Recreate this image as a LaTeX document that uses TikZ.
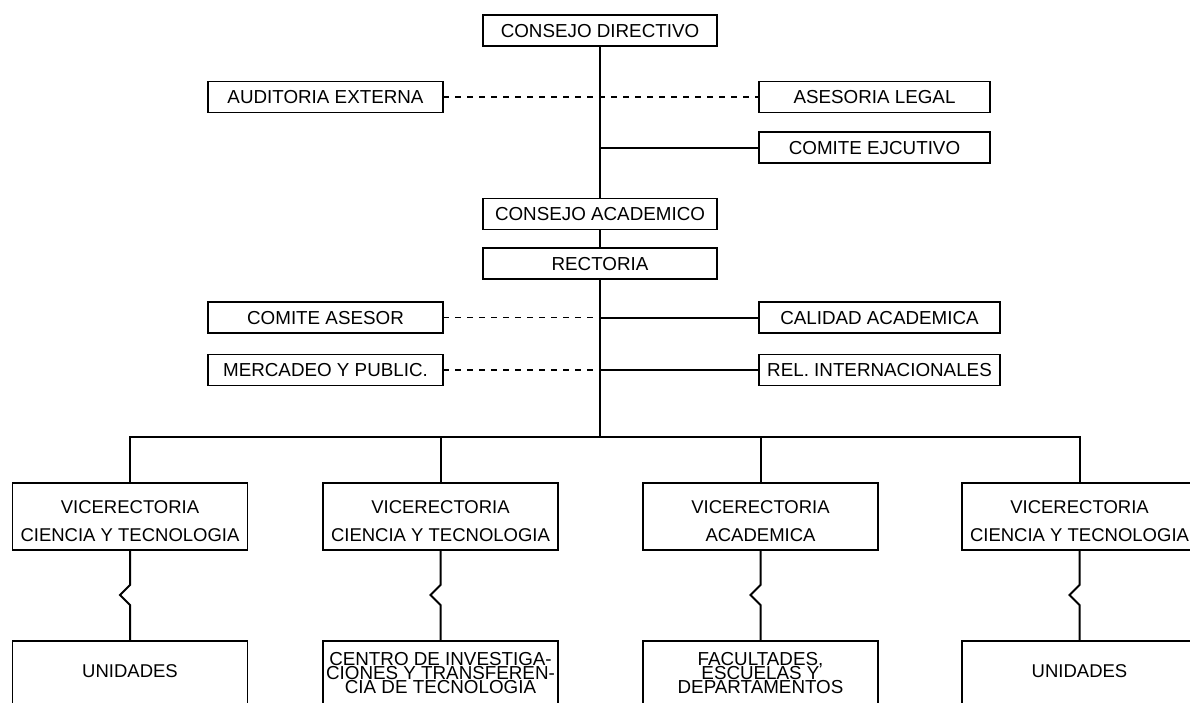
\documentclass[tikz,border=0pt]{standalone}
\usepackage{fontspec}
\setmainfont{Liberation Sans}
\usetikzlibrary{calc}
\lineskiplimit=-100pt

\begin{document}
\begin{tikzpicture}[x=1pt,y=-1pt,
  every node/.style={inner sep=0pt, outer sep=0pt},
  unit/.style={draw, line width=1.7pt, minimum height=31pt,
    text height=13.5pt, text depth=0pt, font=\fontsize{18.8}{20}\selectfont},
  vice/.style={draw, line width=1.7pt, minimum width=235pt, minimum height=67pt,
    align=center, text height=50pt, text depth=0pt, font=\fontsize{18.5}{28}\selectfont},
  basebox/.style={draw, line width=1.7pt, minimum width=235pt,
    minimum height=130pt, anchor=north},
  basetext/.style={anchor=north, align=center, font=\fontsize{18.8}{14.4}\selectfont},
  link/.style={line width=2pt},
  advice/.style={line width=1.6pt, dash pattern=on 6pt off 6pt},
  zig/.style={to path={-- ++(0,35) -- ++(-10,10) -- ++(10,10) -- (\tikztotarget)}},
]
\useasboundingbox (0,0) rectangle (1190,702);
\clip (0,0) rectangle (1190,702);

% governing bodies on the central axis
\node[unit, minimum width=234pt] (cd)  at (600,30.5)  {CONSEJO DIRECTIVO};
\node[unit, minimum width=234pt] (ca)  at (600,214)   {CONSEJO ACADEMICO};
\node[unit, minimum width=234pt] (rec) at (600,263.5) {RECTORIA};

% staff units beside the axis
\node[unit, minimum width=235pt] (aud) at (325.5,97)    {AUDITORIA EXTERNA};
\node[unit, minimum width=231pt] (leg) at (874.5,97)    {ASESORIA LEGAL};
\node[unit, minimum width=231pt] (ce)  at (874.5,147.5) {COMITE EJCUTIVO};
\node[unit, minimum width=235pt] (cas) at (325.5,317.5) {COMITE ASESOR};
\node[unit, minimum width=241pt] (cal) at (879.5,317.5) {CALIDAD ACADEMICA};
\node[unit, minimum width=235pt] (mer) at (325.5,370)   {MERCADEO Y PUBLIC.};
\node[unit, minimum width=241pt] (rel) at (879.5,370)   {REL. INTERNACIONALES};

% vice-rectorates
\node[vice] (v1) at (130,516.5)    {VICERECTORIA\\CIENCIA Y TECNOLOGIA};
\node[vice] (v2) at (440.5,516.5)  {VICERECTORIA\\CIENCIA Y TECNOLOGIA};
\node[vice] (v3) at (760.5,516.5)  {VICERECTORIA\\ACADEMICA};
\node[vice] (v4) at (1079.5,516.5) {VICERECTORIA\\CIENCIA Y TECNOLOGIA};

% dependent units (boxes run past the lower edge)
\node[basebox] (u1) at (130,641)    {};
\node[basebox] (u2) at (440.5,641)  {};
\node[basebox] (u3) at (760.5,641)  {};
\node[basebox] (u4) at (1079.5,641) {};
\node[anchor=north, font=\fontsize{18.5}{20}\selectfont] (u1t) at ($(u1.north)+(0,24)$) {UNIDADES};
\node[basetext] (u2t) at ($(u2.north)+(0,11)$) {CENTRO DE INVESTIGA-\\CIONES Y TRANSFEREN-\\CIA DE TECNOLOGIA};
\node[basetext] (u3t) at ($(u3.north)+(0,11)$) {FACULTADES,\\ESCUELAS Y\\DEPARTAMENTOS};
\node[anchor=north, font=\fontsize{18.5}{20}\selectfont] (u4t) at ($(u4.north)+(0,24)$) {UNIDADES};

% main line of authority
\coordinate (bus) at (600,437);
\draw[link] (cd) -- (ca);
\draw[link] (ca) -- (rec);
\draw[link] (rec) -- (bus);
\draw[link] (ce.west -| cd.south) -- (ce.west);
\draw[link] (cal.west -| rec.south) -- (cal.west);
\draw[link] (rel.west -| rec.south) -- (rel.west);

% advisory links
\draw[advice] (aud.east) -- (leg.west);
\draw[advice] (cas.east) -- (cas.east -| rec.south);
\draw[advice] (mer.east) -- (mer.east -| rec.south);

% distribution bus to the vice-rectorates
\draw[link] (v1.north) |- (bus) -| (v4.north);
\draw[link] (v2.north |- bus) -- (v2.north);
\draw[link] (v3.north |- bus) -- (v3.north);

% broken links to the dependent units
\draw[link] (v1.south) to[zig] (u1.north);
\draw[link] (v2.south) to[zig] (u2.north);
\draw[link] (v3.south) to[zig] (u3.north);
\draw[link] (v4.south) to[zig] (u4.north);
\end{tikzpicture}
\end{document}
